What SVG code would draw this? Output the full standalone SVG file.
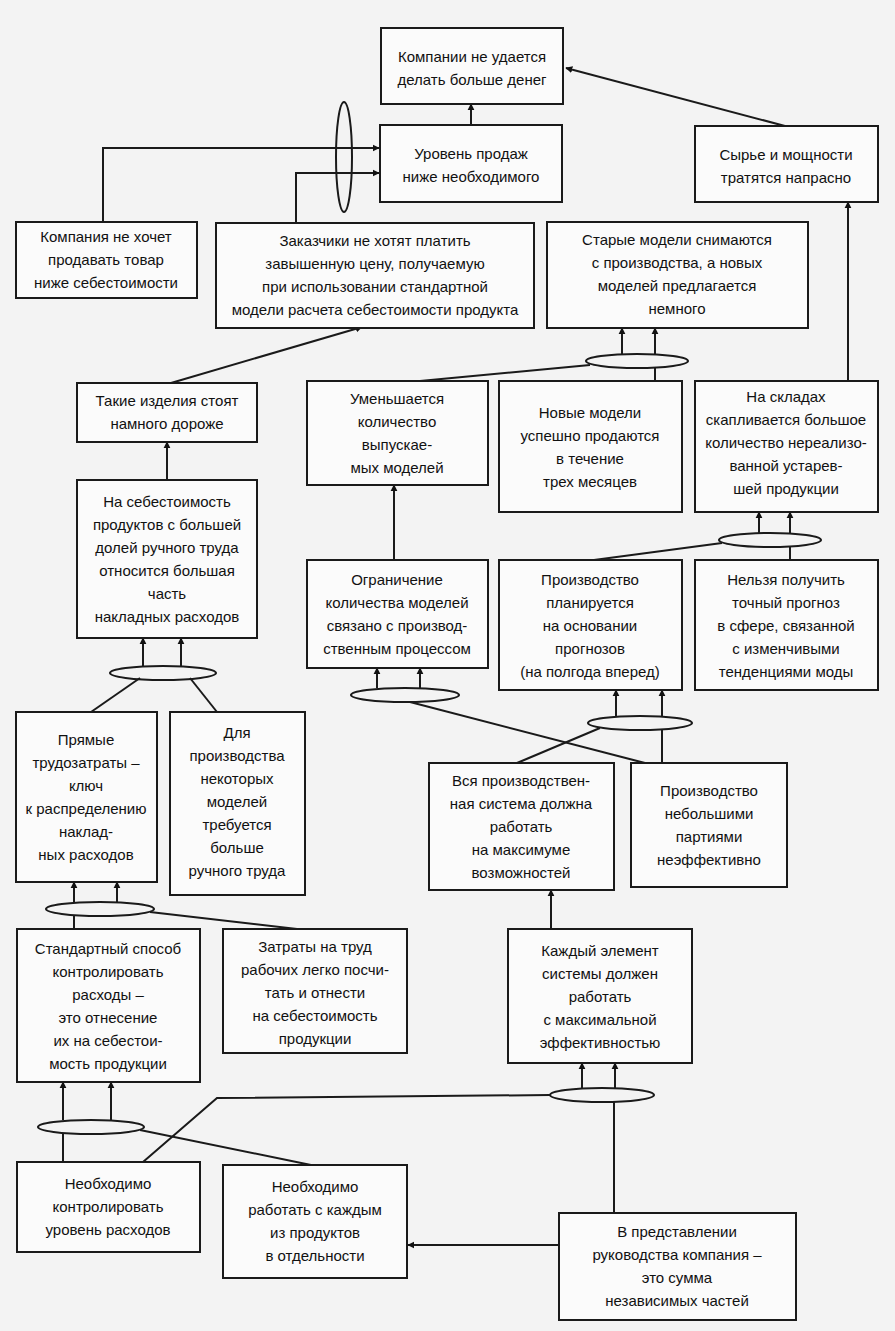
<svg xmlns="http://www.w3.org/2000/svg" width="895" height="1331" viewBox="0 0 895 1331">
<defs>
<marker id="ar" viewBox="0 0 10 10" refX="9" refY="5" markerWidth="7" markerHeight="9" orient="auto" markerUnits="userSpaceOnUse"><path d="M0,0 L10,5 L0,10 z" fill="#111"/></marker>
<style>
.b{fill:#fbfbfb;stroke:#1a1a1a;stroke-width:2}
.t{font-family:"Liberation Sans","DejaVu Sans",sans-serif;font-size:15px;fill:#111;text-anchor:middle}
.c line,.c path,.c polyline{stroke:#1a1a1a;stroke-width:2;fill:none}
.c ellipse{fill:none;stroke:#1a1a1a;stroke-width:2}
.a{marker-end:url(#ar)}
</style>
</defs>
<rect width="895" height="1331" fill="#f3f3f3"/>
<g class="c" id="connectors">
<line class="a" x1="471" y1="125" x2="471" y2="104"/>
<line class="a" x1="785" y1="126" x2="566" y2="68"/>
<polyline class="a" points="103,222 103,148 379,148"/>
<polyline class="a" points="296,223 296,173 379,173"/>
<ellipse cx="344" cy="157" rx="8" ry="55"/>
<line class="a" x1="848" y1="381" x2="848" y2="202"/>
<line class="a" x1="171" y1="383" x2="362" y2="327"/>
<ellipse cx="637" cy="361" rx="51" ry="7"/>
<line class="a" x1="622" y1="354" x2="622" y2="328"/>
<line class="a" x1="655" y1="354" x2="655" y2="328"/>
<line x1="590" y1="365" x2="420" y2="381"/>
<line x1="655" y1="368" x2="655" y2="381"/>
<line class="a" x1="167" y1="480" x2="167" y2="442"/>
<line class="a" x1="394" y1="560" x2="394" y2="485"/>
<ellipse cx="770" cy="540" rx="51" ry="7"/>
<line class="a" x1="759" y1="533" x2="759" y2="512"/>
<line class="a" x1="790" y1="533" x2="790" y2="512"/>
<line x1="594" y1="560" x2="722" y2="543"/>
<line x1="790" y1="547" x2="790" y2="560"/>
<ellipse cx="163" cy="673" rx="53" ry="7"/>
<line class="a" x1="143" y1="666" x2="143" y2="638"/>
<line class="a" x1="181" y1="666" x2="181" y2="638"/>
<line x1="140" y1="678" x2="91" y2="712"/>
<line x1="190" y1="678" x2="217" y2="712"/>
<ellipse cx="405" cy="695" rx="54" ry="7"/>
<line class="a" x1="377" y1="688" x2="377" y2="668"/>
<line class="a" x1="420" y1="688" x2="420" y2="668"/>
<line x1="410" y1="702" x2="645" y2="763"/>
<ellipse cx="640" cy="723" rx="52" ry="7"/>
<line class="a" x1="616" y1="716" x2="616" y2="690"/>
<line class="a" x1="662" y1="716" x2="662" y2="690"/>
<line x1="600" y1="728" x2="517" y2="763"/>
<line x1="662" y1="730" x2="662" y2="763"/>
<ellipse cx="100" cy="909" rx="54" ry="7"/>
<line class="a" x1="74" y1="902" x2="74" y2="882"/>
<line class="a" x1="117" y1="902" x2="117" y2="882"/>
<line x1="74" y1="916" x2="74" y2="929"/>
<line x1="150" y1="912" x2="297" y2="929"/>
<line class="a" x1="551" y1="929" x2="551" y2="890"/>
<ellipse cx="602" cy="1095" rx="52" ry="7"/>
<line class="a" x1="582" y1="1088" x2="582" y2="1063"/>
<line class="a" x1="615" y1="1088" x2="615" y2="1063"/>
<polyline points="550,1095 217,1098 143,1162"/>
<line x1="614" y1="1102" x2="614" y2="1213"/>
<ellipse cx="91" cy="1127" rx="53" ry="7"/>
<line class="a" x1="63" y1="1120" x2="63" y2="1082"/>
<line class="a" x1="111" y1="1120" x2="111" y2="1082"/>
<line x1="63" y1="1134" x2="63" y2="1162"/>
<line x1="140" y1="1130" x2="311" y2="1165"/>
<line class="a" x1="559" y1="1245" x2="408" y2="1245"/>
</g>
<g id="n1"><rect class="b" x="381" y="28" width="182" height="76"/><text class="t" x="472" y="62">Компании не удается</text><text class="t" x="472" y="85">делать больше денег</text></g>
<g id="n2"><rect class="b" x="380" y="125" width="182" height="77"/><text class="t" x="471" y="159">Уровень продаж</text><text class="t" x="471" y="182">ниже необходимого</text></g>
<g id="n3"><rect class="b" x="695" y="126" width="183" height="76"/><text class="t" x="786" y="160">Сырье и мощности</text><text class="t" x="786" y="183">тратятся напрасно</text></g>
<g id="n4"><rect class="b" x="16" y="222" width="181" height="76"/><text class="t" x="106" y="242">Компания не хочет</text><text class="t" x="106" y="265">продавать товар</text><text class="t" x="106" y="288">ниже себестоимости</text></g>
<g id="n5"><rect class="b" x="216" y="223" width="318" height="105"/><text class="t" x="375" y="246">Заказчики не хотят платить</text><text class="t" x="375" y="269">завышенную цену, получаемую</text><text class="t" x="375" y="292">при использовании стандартной</text><text class="t" x="375" y="315">модели расчета себестоимости продукта</text></g>
<g id="n6"><rect class="b" x="547" y="222" width="261" height="106"/><text class="t" x="677" y="245">Старые модели снимаются</text><text class="t" x="677" y="268">с производства, а новых</text><text class="t" x="677" y="291">моделей предлагается</text><text class="t" x="677" y="314">немного</text></g>
<g id="n7"><rect class="b" x="77" y="383" width="180" height="59"/><text class="t" x="167" y="406">Такие изделия стоят</text><text class="t" x="167" y="429">намного дороже</text></g>
<g id="n8"><rect class="b" x="307" y="381" width="181" height="104"/><text class="t" x="397" y="404">Уменьшается</text><text class="t" x="397" y="427">количество</text><text class="t" x="397" y="450">выпускае-</text><text class="t" x="397" y="473">мых моделей</text></g>
<g id="n9"><rect class="b" x="499" y="381" width="183" height="131"/><text class="t" x="590" y="418">Новые модели</text><text class="t" x="590" y="441">успешно продаются</text><text class="t" x="590" y="464">в течение</text><text class="t" x="590" y="487">трех месяцев</text></g>
<g id="n10"><rect class="b" x="695" y="381" width="183" height="131"/><text class="t" x="786" y="402">На складах</text><text class="t" x="786" y="425">скапливается большое</text><text class="t" x="786" y="448">количество нереализо-</text><text class="t" x="786" y="471">ванной устарев-</text><text class="t" x="786" y="494">шей продукции</text></g>
<g id="n11"><rect class="b" x="77" y="480" width="180" height="158"/><text class="t" x="167" y="507">На себестоимость</text><text class="t" x="167" y="530">продуктов  с большей</text><text class="t" x="167" y="553">долей ручного труда</text><text class="t" x="167" y="576">относится большая</text><text class="t" x="167" y="599">часть</text><text class="t" x="167" y="622">накладных расходов</text></g>
<g id="n12"><rect class="b" x="307" y="560" width="181" height="108"/><text class="t" x="397" y="585">Ограничение</text><text class="t" x="397" y="608">количества моделей</text><text class="t" x="397" y="631">связано с производ-</text><text class="t" x="397" y="654">ственным процессом</text></g>
<g id="n13"><rect class="b" x="499" y="560" width="183" height="130"/><text class="t" x="590" y="585">Производство</text><text class="t" x="590" y="608">планируется</text><text class="t" x="590" y="631">на основании</text><text class="t" x="590" y="654">прогнозов</text><text class="t" x="590" y="677">(на полгода вперед)</text></g>
<g id="n14"><rect class="b" x="695" y="560" width="183" height="130"/><text class="t" x="786" y="585">Нельзя получить</text><text class="t" x="786" y="608">точный прогноз</text><text class="t" x="786" y="631">в сфере, связанной</text><text class="t" x="786" y="654">с изменчивыми</text><text class="t" x="786" y="677">тенденциями моды</text></g>
<g id="n15"><rect class="b" x="16" y="712" width="141" height="170"/><text class="t" x="86" y="745">Прямые</text><text class="t" x="86" y="768">трудозатраты –</text><text class="t" x="86" y="791">ключ</text><text class="t" x="86" y="814">к распределению</text><text class="t" x="86" y="837">наклад-</text><text class="t" x="86" y="860">ных расходов</text></g>
<g id="n16"><rect class="b" x="170" y="712" width="135" height="183"/><text class="t" x="237" y="738">Для</text><text class="t" x="237" y="761">производства</text><text class="t" x="237" y="784">некоторых</text><text class="t" x="237" y="807">моделей</text><text class="t" x="237" y="830">требуется</text><text class="t" x="237" y="853">больше</text><text class="t" x="237" y="876">ручного труда</text></g>
<g id="n17"><rect class="b" x="429" y="763" width="185" height="127"/><text class="t" x="521" y="786">Вся производствен-</text><text class="t" x="521" y="809">ная система должна</text><text class="t" x="521" y="832">работать</text><text class="t" x="521" y="855">на максимуме</text><text class="t" x="521" y="878">возможностей</text></g>
<g id="n18"><rect class="b" x="631" y="763" width="156" height="124"/><text class="t" x="709" y="796">Производство</text><text class="t" x="709" y="819">небольшими</text><text class="t" x="709" y="842">партиями</text><text class="t" x="709" y="865">неэффективно</text></g>
<g id="n19"><rect class="b" x="17" y="929" width="183" height="153"/><text class="t" x="108" y="954">Стандартный способ</text><text class="t" x="108" y="977">контролировать</text><text class="t" x="108" y="1000">расходы –</text><text class="t" x="108" y="1023">это отнесение</text><text class="t" x="108" y="1046">их на себестои-</text><text class="t" x="108" y="1069">мость продукции</text></g>
<g id="n20"><rect class="b" x="223" y="929" width="184" height="124"/><text class="t" x="315" y="952">Затраты на труд</text><text class="t" x="315" y="975">рабочих легко посчи-</text><text class="t" x="315" y="998">тать и отнести</text><text class="t" x="315" y="1021">на себестоимость</text><text class="t" x="315" y="1044">продукции</text></g>
<g id="n21"><rect class="b" x="508" y="929" width="184" height="134"/><text class="t" x="600" y="956">Каждый элемент</text><text class="t" x="600" y="979">системы должен</text><text class="t" x="600" y="1002">работать</text><text class="t" x="600" y="1025">с максимальной</text><text class="t" x="600" y="1048">эффективностью</text></g>
<g id="n22"><rect class="b" x="17" y="1162" width="183" height="90"/><text class="t" x="108" y="1189">Необходимо</text><text class="t" x="108" y="1212">контролировать</text><text class="t" x="108" y="1235">уровень расходов</text></g>
<g id="n23"><rect class="b" x="223" y="1165" width="184" height="113"/><text class="t" x="315" y="1192">Необходимо</text><text class="t" x="315" y="1215">работать с каждым</text><text class="t" x="315" y="1238">из продуктов</text><text class="t" x="315" y="1261">в отдельности</text></g>
<g id="n24"><rect class="b" x="559" y="1213" width="237" height="107"/><text class="t" x="677" y="1237">В представлении</text><text class="t" x="677" y="1260">руководства компания –</text><text class="t" x="677" y="1283">это сумма</text><text class="t" x="677" y="1306">независимых частей</text></g>
</svg>
